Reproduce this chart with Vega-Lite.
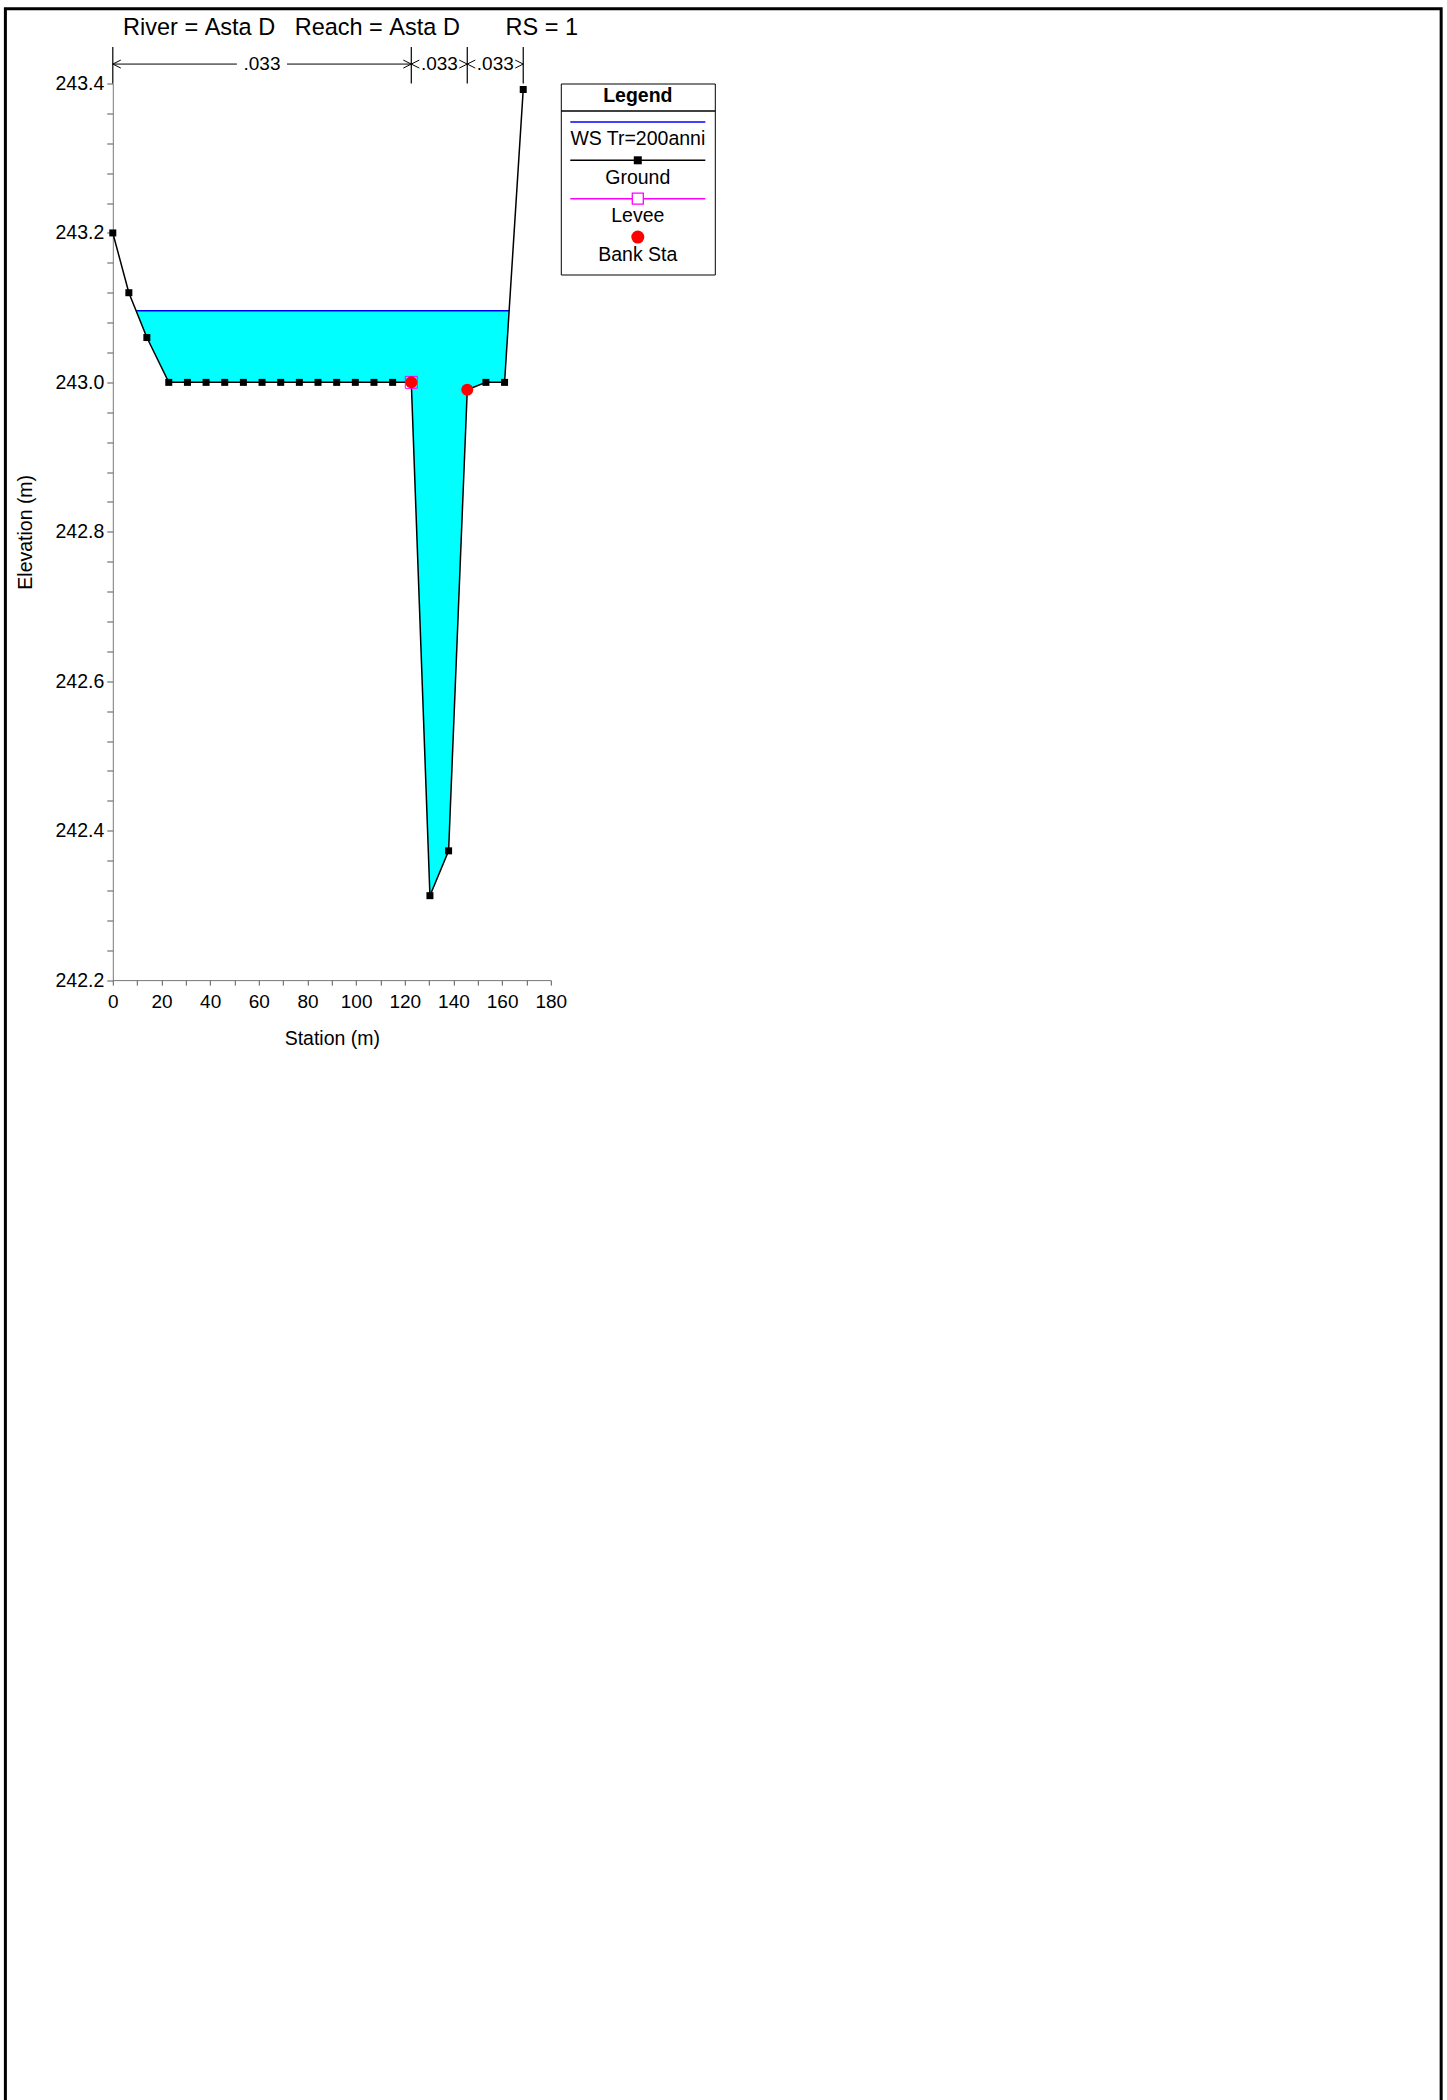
{
  "$schema": "https://vega.github.io/schema/vega-lite/v6.json",
  "padding": {"left": 3.8, "top": 6.5, "right": 0, "bottom": 0},
  "background": "white",
  "config": {"view": {"stroke": "#000", "strokeWidth": 1}, "font": "Liberation Sans"},
  "datasets": {
    "ground": [
      {"station": 0, "elev": 243.2}, {"station": 6.6, "elev": 243.12}, {"station": 14.0, "elev": 243.06},
      {"station": 23.0, "elev": 243.0}, {"station": 30.67, "elev": 243.0}, {"station": 38.33, "elev": 243.0},
      {"station": 46.0, "elev": 243.0}, {"station": 53.67, "elev": 243.0}, {"station": 61.33, "elev": 243.0},
      {"station": 69.0, "elev": 243.0}, {"station": 76.67, "elev": 243.0}, {"station": 84.33, "elev": 243.0},
      {"station": 92.0, "elev": 243.0}, {"station": 99.67, "elev": 243.0}, {"station": 107.33, "elev": 243.0},
      {"station": 115.0, "elev": 243.0}, {"station": 122.67, "elev": 243.0}, {"station": 130.33, "elev": 242.313},
      {"station": 138.0, "elev": 242.373}, {"station": 145.67, "elev": 242.99}, {"station": 153.33, "elev": 243.0},
      {"station": 161.0, "elev": 243.0}, {"station": 168.67, "elev": 243.392}
    ],
    "water": [
      {"station": 9.56, "elev": 243.096, "ws": 243.096}, {"station": 14.0, "elev": 243.06, "ws": 243.096},
      {"station": 23.0, "elev": 243.0, "ws": 243.096}, {"station": 122.67, "elev": 243.0, "ws": 243.096},
      {"station": 130.33, "elev": 242.313, "ws": 243.096}, {"station": 138.0, "elev": 242.373, "ws": 243.096},
      {"station": 145.67, "elev": 242.99, "ws": 243.096}, {"station": 153.33, "elev": 243.0, "ws": 243.096},
      {"station": 161.0, "elev": 243.0, "ws": 243.096}, {"station": 162.9, "elev": 243.096, "ws": 243.096}
    ],
    "wsline": [{"station": 9.56, "elev": 243.096}, {"station": 162.9, "elev": 243.096}],
    "banks": [{"station": 122.67, "elev": 243.0}, {"station": 145.67, "elev": 242.99}],
    "levee": [{"station": 122.67, "elev": 243.0}],
    "nbounds": [{"station": 0}, {"station": 122.67}, {"station": 145.67}, {"station": 168.67}],
    "nvals": [
      {"from": 0, "to": 122.67, "mid": 61.3, "n": ".033"},
      {"from": 122.67, "to": 145.67, "mid": 134.2, "n": ".033"},
      {"from": 145.67, "to": 168.67, "mid": 157.2, "n": ".033"}
    ],
    "nsegs": [{"a": 0, "b": 51.0}, {"a": 71.6, "b": 122.67}],
    "legend": [
      {"item": "WS Tr=200anni"}, {"item": "Ground"}, {"item": "Levee"}, {"item": "Bank Sta"}
    ]
  },
  "hconcat": [
    {
      "width": 438,
      "height": 896.6,
      "view": {"stroke": null},
      "title": {
        "text": "River\u00a0=\u00a0Asta\u00a0D\u00a0\u00a0\u00a0Reach\u00a0=\u00a0Asta\u00a0D\u00a0\u00a0\u00a0\u00a0\u00a0\u00a0\u00a0RS\u00a0=\u00a01",
        "anchor": "start", "frame": "group", "dx": 10.3, "offset": -51.6, "baseline": "alphabetic",
        "fontSize": 23.5, "fontWeight": "normal", "font": "Liberation Sans", "color": "#000"
      },
      "layer": [
        {
          "data": {"name": "water"},
          "mark": {"type": "area", "color": "#00FFFF", "opacity": 1},
          "encoding": {
            "x": {"field": "station", "type": "quantitative",
              "scale": {"domain": [0, 180], "nice": false, "zero": false},
              "axis": {"title": "Station (m)", "values": [0,10,20,30,40,50,60,70,80,90,100,110,120,130,140,150,160,170,180],
                "tickCount": 200,
                "labelExpr": "datum.value % 20 === 0 ? datum.label : ''", "labelOverlap": false, "labelFlush": false,
                "grid": false, "tickSize": 5, "domainColor": "#777", "tickColor": "#555", "labelColor": "#000",
                "labelFont": "Liberation Sans", "labelFontSize": 19, "labelPadding": 7,
                "titleFont": "Liberation Sans", "titleFontSize": 19.5, "titleFontWeight": "normal", "titleColor": "#000", "titlePadding": 18}},
            "y": {"field": "elev", "type": "quantitative",
              "scale": {"domain": [242.2, 243.4], "nice": false, "zero": false},
              "axis": {"title": "Elevation (m)", "values": [242.2,242.24,242.28,242.32,242.36,242.4,242.44,242.48,242.52,242.56,242.6,242.64,242.68,242.72,242.76,242.8,242.84,242.88,242.92,242.96,243.0,243.04,243.08,243.12,243.16,243.2,243.24,243.28,243.32,243.36,243.4],
                "tickCount": 200,
                "labelExpr": "round(datum.value*100) % 20 === 0 ? format(datum.value, '.1f') : ''", "labelOverlap": false, "labelFlush": false,
                "grid": false, "tickSize": 6, "domainColor": "#777", "tickColor": "#555", "labelColor": "#000",
                "labelFont": "Liberation Sans", "labelFontSize": 19.5, "labelPadding": 3,
                "titleFont": "Liberation Sans", "titleFontSize": 19.5, "titleFontWeight": "normal", "titleColor": "#000", "titlePadding": 20}},
            "y2": {"field": "ws"}
          }
        },
        {
          "data": {"name": "wsline"},
          "mark": {"type": "line", "color": "#0000FF", "strokeWidth": 1.5},
          "encoding": {"x": {"field": "station", "type": "quantitative"}, "y": {"field": "elev", "type": "quantitative"}}
        },
        {
          "data": {"name": "ground"},
          "mark": {"type": "line", "color": "#000", "strokeWidth": 1.5},
          "encoding": {"x": {"field": "station", "type": "quantitative"}, "y": {"field": "elev", "type": "quantitative"}}
        },
        {
          "data": {"name": "ground"},
          "mark": {"type": "point", "shape": "square", "filled": true, "color": "#000", "size": 49, "opacity": 1},
          "encoding": {"x": {"field": "station", "type": "quantitative"}, "y": {"field": "elev", "type": "quantitative"}}
        },
        {
          "data": {"name": "levee"},
          "mark": {"type": "point", "shape": "square", "filled": false, "stroke": "#FF00FF", "strokeWidth": 1, "size": 144, "opacity": 1},
          "encoding": {"x": {"field": "station", "type": "quantitative"}, "y": {"field": "elev", "type": "quantitative"}}
        },
        {
          "data": {"name": "banks"},
          "mark": {"type": "point", "shape": "circle", "filled": true, "color": "#FF0000", "size": 144, "opacity": 1},
          "encoding": {"x": {"field": "station", "type": "quantitative"}, "y": {"field": "elev", "type": "quantitative"}}
        },
        {
          "data": {"name": "nbounds"},
          "mark": {"type": "rule", "color": "#000", "strokeWidth": 1.2},
          "encoding": {"x": {"field": "station", "type": "quantitative"}, "y": {"datum": 243.4, "type": "quantitative"}, "y2": {"datum": 243.449}}
        },
        {
          "data": {"name": "nsegs"},
          "mark": {"type": "rule", "color": "#000", "strokeWidth": 1},
          "encoding": {"x": {"field": "a", "type": "quantitative"}, "x2": {"field": "b"}, "y": {"datum": 243.426, "type": "quantitative"}}
        },
        {
          "data": {"name": "nvals"},
          "mark": {"type": "point", "shape": "M2,-1L0,0L2,1", "filled": false, "stroke": "#000", "strokeWidth": 1, "size": 64, "opacity": 1},
          "encoding": {"x": {"field": "from", "type": "quantitative"}, "y": {"datum": 243.426, "type": "quantitative"}}
        },
        {
          "data": {"name": "nvals"},
          "mark": {"type": "point", "shape": "M-2,-1L0,0L-2,1", "filled": false, "stroke": "#000", "strokeWidth": 1, "size": 64, "opacity": 1},
          "encoding": {"x": {"field": "to", "type": "quantitative"}, "y": {"datum": 243.426, "type": "quantitative"}}
        },
        {
          "data": {"name": "nvals"},
          "mark": {"type": "text", "font": "Liberation Sans", "fontSize": 19, "baseline": "middle", "align": "center", "color": "#000"},
          "encoding": {"x": {"field": "mid", "type": "quantitative"}, "y": {"datum": 243.426, "type": "quantitative"}, "text": {"field": "n"}}
        },
        {
          "data": {"values": [{"frame": 1}]},
          "mark": {"type": "rect", "filled": false, "stroke": "#000", "strokeWidth": 3, "fill": null},
          "encoding": {"x": {"datum": -44.14, "type": "quantitative"}, "x2": {"datum": 545.9}, "y": {"datum": 243.5, "type": "quantitative"}, "y2": {"datum": 240.6}}
        }
      ]
    },
    {
      "vconcat": [
        {
          "width": 154, "height": 27,
          "data": {"values": [{"t": "Legend"}]},
          "mark": {"type": "text", "font": "Liberation Sans", "fontWeight": "bold", "fontSize": 19.5, "baseline": "middle", "dy": -1, "color": "#000"},
          "encoding": {
            "y": {"field": "t", "type": "nominal", "axis": null, "scale": {"type": "point", "padding": 0.5}},
            "text": {"field": "t"}
          }
        },
        {
          "width": 154, "height": 164,
          "data": {"name": "legend"},
          "encoding": {"y": {"field": "item", "type": "nominal", "axis": null,
            "scale": {"type": "point", "domain": ["WS Tr=200anni", "Ground", "Levee", "Bank Sta"], "padding": 0.635}}},
          "layer": [
            {
              "transform": [{"filter": "datum.item !== 'Bank Sta'"}],
              "mark": {"type": "tick", "orient": "horizontal", "size": 135, "thickness": 1.5, "yOffset": -13, "opacity": 1},
              "encoding": {"color": {"field": "item", "type": "nominal", "legend": null,
                "scale": {"domain": ["WS Tr=200anni", "Ground", "Levee", "Bank Sta"], "range": ["#0000FF", "#000000", "#FF00FF", "#FF0000"]}}}
            },
            {
              "transform": [{"filter": "datum.item === 'Ground'"}],
              "mark": {"type": "point", "shape": "square", "filled": true, "color": "#000", "size": 64, "yOffset": -13, "opacity": 1}
            },
            {
              "transform": [{"filter": "datum.item === 'Levee'"}],
              "mark": {"type": "point", "shape": "square", "filled": true, "fill": "#fff", "stroke": "#FF00FF", "strokeWidth": 1.3, "size": 121, "yOffset": -13, "opacity": 1}
            },
            {
              "transform": [{"filter": "datum.item === 'Bank Sta'"}],
              "mark": {"type": "point", "shape": "circle", "filled": true, "color": "#FF0000", "size": 169, "yOffset": -13, "opacity": 1}
            },
            {
              "mark": {"type": "text", "font": "Liberation Sans", "fontSize": 19.5, "baseline": "middle", "dy": 4.6, "color": "#000"},
              "encoding": {"text": {"field": "item"}}
            }
          ]
        }
      ],
      "spacing": 0,
      "bounds": "flush"
    }
  ],
  "spacing": 10,
  "bounds": "flush"
}
